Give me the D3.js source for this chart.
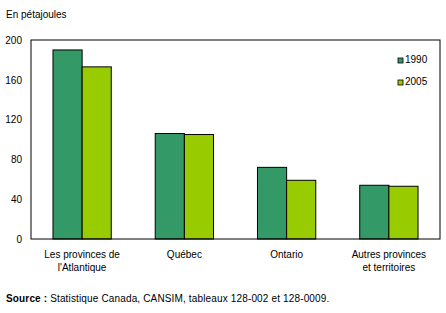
<!DOCTYPE html>
<html>
<head>
<meta charset="utf-8">
<script src="https://cdn.jsdelivr.net/npm/d3@7"></script>
<style>
  body { margin: 0; background: #fff; }
  svg { display: block; font-family: "Liberation Sans", Arial, sans-serif; }
</style>
</head>
<body>
<div id="chart"></div>
<script>
// data
const categories = [["Les provinces de", "l'Atlantique"], ["Québec"], ["Ontario"], ["Autres provinces", "et territoires"]]
const seriesNames = ["1990", "2005"]
const values1990 = [190, 106, 72, 54]
const values2005 = [173, 105, 59, 53]
const yTicks = [0, 40, 80, 120, 160, 200]
const colors = ["#339966", "#99cc00"]

const width = 446, height = 313
const plot = { left: 31, right: 440, top: 40, bottom: 239 }

const svg = d3.select("#chart").append("svg")
    .attr("width", width)
    .attr("height", height)

const x0 = d3.scaleBand()
    .domain(d3.range(categories.length))
    .range([plot.left, plot.right])
    .paddingInner(0.43)
    .paddingOuter(0.215)

const x1 = d3.scaleBand()
    .domain(seriesNames)
    .range([0, x0.bandwidth()])

const y = d3.scaleLinear()
    .domain([0, 200])
    .range([plot.bottom, plot.top])

// unit title
svg.append("text")
    .attr("x", 6)
    .attr("y", 18)
    .attr("font-size", 10)
    .text("En pétajoules")

// y tick labels
const yAxis = d3.axisLeft(y).tickValues(yTicks).tickSize(0).tickPadding(9)
const yg = svg.append("g")
    .attr("transform", `translate(${plot.left},0)`)
    .call(yAxis)
yg.select(".domain").remove()
yg.selectAll("text").attr("font-size", 10).attr("font-family", "Liberation Sans, Arial, sans-serif").attr("fill", "#000")

// bars
const rows = categories.map((c, i) => [values1990[i], values2005[i]])
const groups = svg.selectAll(".grp")
    .data(rows)
    .enter().append("g")
    .attr("class", "grp")
    .attr("transform", (d, i) => `translate(${x0(i)},0)`)

groups.selectAll("rect")
    .data(d => d.map((v, j) => ({ v: v, s: seriesNames[j], j: j })))
    .enter().append("rect")
    .attr("x", d => x1(d.s))
    .attr("y", d => y(d.v))
    .attr("width", x1.bandwidth())
    .attr("height", d => y(0) - y(d.v))
    .attr("fill", d => colors[d.j])
    .attr("stroke", "#000")
    .attr("stroke-width", 1)

// plot frame
svg.append("rect")
    .attr("x", plot.left)
    .attr("y", plot.top)
    .attr("width", plot.right - plot.left)
    .attr("height", plot.bottom - plot.top)
    .attr("fill", "none")
    .attr("stroke", "#000")
    .attr("stroke-width", 1)

// category labels
const xLabels = svg.selectAll(".cat")
    .data(categories)
    .enter().append("text")
    .attr("class", "cat")
    .attr("text-anchor", "middle")
    .attr("font-size", 10)
    .attr("x", (d, i) => x0(i) + x0.bandwidth() / 2)
    .attr("y", 258)
xLabels.selectAll("tspan")
    .data(d => d)
    .enter().append("tspan")
    .attr("x", function () { return this.parentNode.getAttribute("x") })
    .attr("dy", (d, i) => i === 0 ? 0 : 13)
    .text(d => d)

// legend
const legend = svg.selectAll(".leg")
    .data(seriesNames)
    .enter().append("g")
    .attr("class", "leg")
    .attr("transform", (d, i) => `translate(398,${58 + i * 22})`)
legend.append("rect")
    .attr("width", 5)
    .attr("height", 5)
    .attr("fill", (d, i) => colors[i])
    .attr("stroke", "#000")
    .attr("stroke-width", 0.8)
legend.append("text")
    .attr("x", 7)
    .attr("y", 5)
    .attr("font-size", 10)
    .text(d => d)

// source
const src = svg.append("text")
    .attr("x", 6)
    .attr("y", 302)
    .attr("font-size", 10)
    .attr("letter-spacing", 0.15)
src.append("tspan").attr("font-weight", "bold").text("Source :")
src.append("tspan").text(" Statistique Canada, CANSIM, tableaux 128-002 et 128-0009.")
</script>
</body>
</html>
